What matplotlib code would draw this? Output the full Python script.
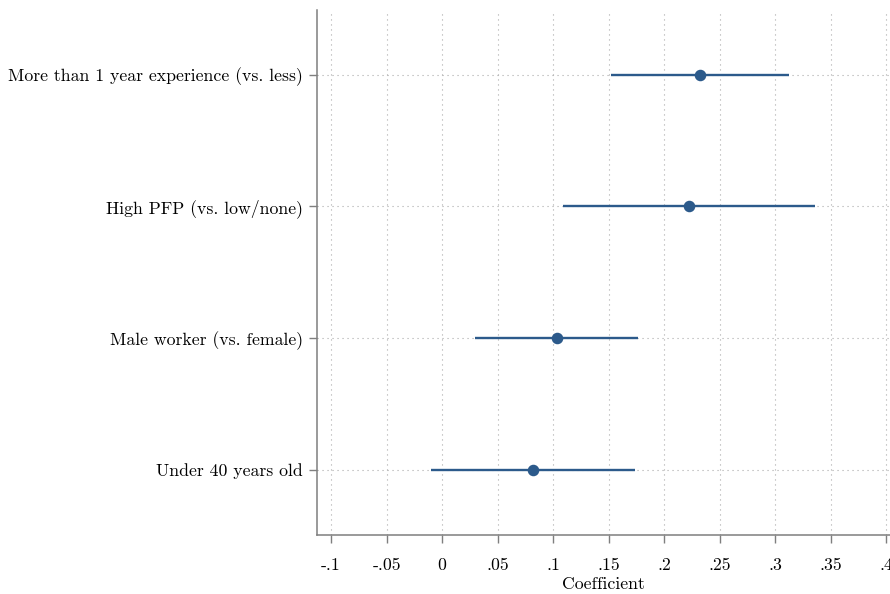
import matplotlib
matplotlib.use("Agg")
import matplotlib.pyplot as plt

plt.rcParams['font.family'] = ['cmr10', 'DejaVu Serif']
plt.rcParams['axes.formatter.use_mathtext'] = True

# coefficient estimates with 95% confidence bounds, top row first
labels = ["More than 1 year experience (vs. less)",
          "High PFP (vs. low/none)",
          "Male worker (vs. female)",
          "Under 40 years old"]
coef = [0.2327, 0.2225, 0.1033, 0.0823]
ci_low = [0.1523, 0.1093, 0.0297, -0.0099]
ci_high = [0.3129, 0.3363, 0.1768, 0.1739]

xticks = [-0.1, -0.05, 0, 0.05, 0.1, 0.15, 0.2, 0.25, 0.3, 0.35, 0.4]
xtick_labels = ["-.1", "-.05", "0", ".05", ".1", ".15", ".2", ".25", ".3", ".35", ".4"]

navy = "#2c5a8b"

fig = plt.figure(figsize=(8.9, 5.94), dpi=100)
ax = fig.add_axes([0.3562, 0.0993, 0.6438, 0.8839])

ypos = list(range(len(labels), 0, -1))

ax.hlines(ypos, ci_low, ci_high, color=navy, lw=1.7, zorder=3)
ax.plot(coef, ypos, 'o', color=navy, ms=7.3, zorder=4)

ax.set_xlim(-0.1126, 0.4036)
ax.set_ylim(0.505, 4.49)
ax.set_xticks(xticks)
ax.set_xticklabels(xtick_labels)
ax.set_yticks(ypos)
ax.set_yticklabels(labels)

ax.grid(True, color="#aaaaaa", linestyle=(0, (1, 3.5)), linewidth=0.8)
ax.set_axisbelow(True)

for side in ("top", "right"):
    ax.spines[side].set_visible(False)
for side in ("left", "bottom"):
    ax.spines[side].set_color("#7f7f7f")
    ax.spines[side].set_linewidth(1.1)

ax.tick_params(axis="both", colors="#7f7f7f", width=1.0, length=6,
               labelcolor="black", labelsize=12.75)
ax.tick_params(axis="y", pad=4)
ax.tick_params(axis="x", pad=10)
ax.set_xlabel("Coefficient", fontsize=12.75, labelpad=3)

fig.savefig("out.png", dpi=100)
